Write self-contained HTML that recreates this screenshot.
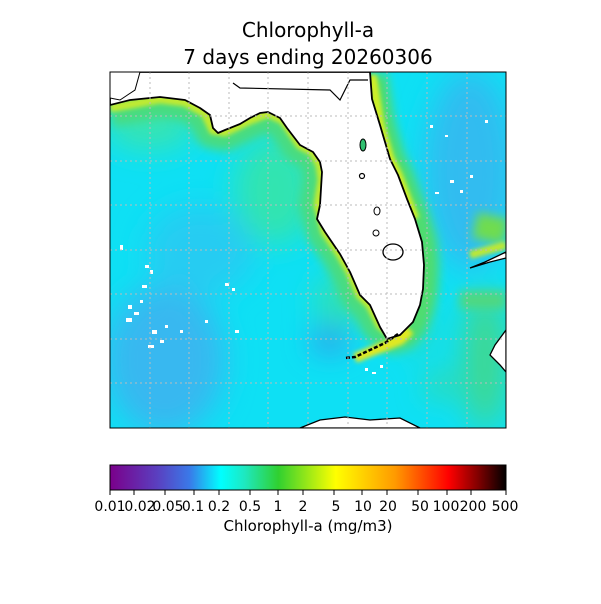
<!DOCTYPE html>
<html><head><style>
body{margin:0;background:#fff;width:601px;height:600px;overflow:hidden;font-family:"DejaVu Sans","Liberation Sans",sans-serif;}
</style></head><body>
<svg width="601" height="600" viewBox="0 0 601 600" xmlns="http://www.w3.org/2000/svg" font-family="DejaVu Sans, Liberation Sans, sans-serif">
<defs>
<filter id="b4" x="-20%" y="-20%" width="140%" height="140%"><feGaussianBlur stdDeviation="5"/></filter>
<filter id="b2" x="-20%" y="-20%" width="140%" height="140%"><feGaussianBlur stdDeviation="2"/></filter>
<filter id="b15" x="-30%" y="-30%" width="160%" height="160%"><feGaussianBlur stdDeviation="15"/></filter>
<clipPath id="ax"><rect x="110" y="72" width="396" height="356"/></clipPath>
<linearGradient id="cb" x1="0" x2="1" y1="0" y2="0">
<stop offset="0" stop-color="#7a008a"/>
<stop offset="0.12" stop-color="#5a40c0"/>
<stop offset="0.2" stop-color="#3a78e8"/>
<stop offset="0.28" stop-color="#00ffff"/>
<stop offset="0.34" stop-color="#1ee8c0"/>
<stop offset="0.425" stop-color="#30d030"/>
<stop offset="0.57" stop-color="#ffff00"/>
<stop offset="0.72" stop-color="#ff9a00"/>
<stop offset="0.855" stop-color="#ff0000"/>
<stop offset="0.93" stop-color="#800000"/>
<stop offset="1" stop-color="#000000"/>
</linearGradient>
</defs>
<text x="308" y="37" font-size="20" text-anchor="middle">Chlorophyll-a</text>
<text x="308" y="64" font-size="20" text-anchor="middle">7 days ending 20260306</text>
<g clip-path="url(#ax)">
<rect x="110" y="72" width="396" height="356" fill="#0ee0f4"/>
<g filter="url(#b15)">
<ellipse cx="165" cy="360" rx="60" ry="75" fill="#38b8f0"/>
<ellipse cx="200" cy="250" rx="55" ry="45" fill="#28ccf2"/>
<ellipse cx="470" cy="170" rx="45" ry="100" fill="#30bcf0"/>
<ellipse cx="330" cy="340" rx="18" ry="12" fill="#3a8ce8"/>
<ellipse cx="275" cy="190" rx="40" ry="55" fill="#30e4b0"/>
<ellipse cx="150" cy="125" rx="45" ry="25" fill="#38e4b0"/>
<ellipse cx="485" cy="360" rx="22" ry="70" fill="#40d890"/>
<ellipse cx="440" cy="385" rx="14" ry="12" fill="#40d890"/>
<ellipse cx="415" cy="330" rx="12" ry="18" fill="#40d890"/>
<ellipse cx="340" cy="300" rx="25" ry="25" fill="#30e0b0"/>
</g>
<g filter="url(#b4)" fill="none" stroke-linejoin="round">
<path d="M110,108 L160,99 185,102 205,113 213,130 225,132 250,120 268,113 283,120 300,145 313,152 320,165 322,180 318,205 325,232 340,254 350,272 360,295 370,305 380,325 392,335 405,330" stroke="#48dc80" stroke-width="38"/>
<path d="M372,75 L380,125 390,159 398,175 407,199 415,219 422,242 424,265 423,289 420,305 413,322 400,338" stroke="#50dc70" stroke-width="30"/>
<path d="M475,225 L506,232" stroke="#70dc50" stroke-width="26"/>
<path d="M460,300 L506,300" stroke="#50d880" stroke-width="18"/>
</g>
<g filter="url(#b2)" fill="none" stroke-linejoin="round">
<path d="M110,108 L160,99 185,102 205,113 213,130 225,132 250,120 268,113 283,120 300,145 313,152 320,165 322,180 318,205 325,232 340,254 350,272 360,295 370,305 380,325 392,335 405,330" stroke="#c0ea30" stroke-width="9"/>
<path d="M372,75 L380,125 390,159 398,175 407,199 415,219" stroke="#d0ee28" stroke-width="9"/>
<path d="M355,358 L400,340 410,330" stroke="#e0e820" stroke-width="10"/>
<path d="M470,255 L506,245" stroke="#c0e830" stroke-width="8"/>
</g>
<path d="M110,72 L110,105 130,100 160,97 185,100 200,108 210,115 213,128 218,133 225,130 240,124 250,118 260,113 268,112 280,118 287,128 300,145 313,152 320,162 322,172 320,205 317,219 325,232 340,254 350,272 360,295 370,305 380,327 387,339 400,335 413,322 420,305 423,289 424,265 422,242 415,219 407,199 398,175 390,159 380,125 372,99 370,72 Z" fill="#fff" stroke="#000" stroke-width="1.8" stroke-linejoin="round"/>
<path d="M233,83 L240,88 330,90 340,100 345,90 350,80 368,80" fill="none" stroke="#000" stroke-width="1.2"/>
<ellipse cx="393" cy="252" rx="10" ry="8" fill="#fff" stroke="#000" stroke-width="1.3"/>
<ellipse cx="363" cy="145" rx="3" ry="6" fill="#30c070" stroke="#000" stroke-width="1"/>
<ellipse cx="377" cy="211" rx="3" ry="4" fill="#fff" stroke="#000" stroke-width="1"/>
<ellipse cx="376" cy="233" rx="3" ry="3" fill="#fff" stroke="#000" stroke-width="1"/>
<ellipse cx="362" cy="176" rx="2.5" ry="2.5" fill="#fff" stroke="#000" stroke-width="1.2"/>
<path d="M398,334 L385,343 370,350 355,357 345,358" fill="none" stroke="#000" stroke-width="2.5" stroke-dasharray="4 2"/>
<path d="M470,268 L490,262 506,258 L506,252 485,262 Z" fill="#fff" stroke="#000" stroke-width="1.3"/>
<path d="M506,330 L495,345 490,355 500,365 506,372 Z" fill="#fff" stroke="#000" stroke-width="1.3"/>
<path d="M300,428 L320,420 345,417 370,420 400,418 420,428 Z" fill="#fff" stroke="#000" stroke-width="1.3"/>
<path d="M110,72 L140,72 135,90 120,100 110,98 Z" fill="#fff" stroke="#000" stroke-width="1"/>
<g fill="#fff">
<rect x="128" y="305" width="4" height="4"/><rect x="134" y="312" width="5" height="3"/><rect x="126" y="318" width="6" height="4"/><rect x="140" y="300" width="3" height="3"/>
<rect x="145" y="265" width="4" height="3"/><rect x="150" y="270" width="3" height="4"/><rect x="142" y="285" width="5" height="3"/>
<rect x="152" y="330" width="5" height="4"/><rect x="160" y="340" width="4" height="3"/><rect x="148" y="345" width="6" height="3"/><rect x="165" y="325" width="3" height="3"/>
<rect x="120" y="245" width="3" height="5"/><rect x="225" y="283" width="4" height="3"/><rect x="232" y="288" width="3" height="3"/>
<rect x="180" y="330" width="3" height="3"/><rect x="235" y="330" width="4" height="3"/><rect x="205" y="320" width="3" height="3"/>
<rect x="450" y="180" width="4" height="3"/><rect x="460" y="190" width="3" height="3"/><rect x="435" y="192" width="4" height="2"/><rect x="470" y="175" width="3" height="3"/>
<rect x="430" y="125" width="3" height="3"/><rect x="445" y="135" width="3" height="2"/><rect x="485" y="120" width="3" height="3"/>
<rect x="365" y="368" width="3" height="3"/><rect x="372" y="372" width="4" height="2"/><rect x="380" y="365" width="3" height="3"/>
</g>
</g>
<g stroke="#bbb" stroke-width="1" stroke-dasharray="2 3" fill="none">
<path d="M150,72V428M189,72V428M229,72V428M268,72V428M308,72V428M348,72V428M387,72V428M427,72V428M467,72V428"/>
<path d="M110,116H506M110,161H506M110,205H506M110,250H506M110,294H506M110,339H506M110,383H506"/>
</g>
<rect x="110" y="72" width="396" height="356" fill="none" stroke="#000" stroke-width="1"/>
<rect x="110" y="465" width="396" height="25" fill="url(#cb)" stroke="#000" stroke-width="1"/>
<g stroke="#000" stroke-width="1">
<path d="M110,490v5M134,490v5M165,490v5M194,490v5M219,490v5M250,490v5M278,490v5M303,490v5M334,490v5M362,490v5M387,490v5M418,490v5M447,490v5M471,490v5M506,490v5"/>
</g>
<g font-size="14" text-anchor="middle">
<text x="110" y="511">0.01</text><text x="140" y="511">0.02</text><text x="168" y="511">0.05</text><text x="193" y="511">0.1</text><text x="219" y="511">0.2</text><text x="250" y="511">0.5</text><text x="278" y="511">1</text><text x="303" y="511">2</text><text x="336" y="511">5</text><text x="363" y="511">10</text><text x="388" y="511">20</text><text x="420" y="511">50</text><text x="446" y="511">100</text><text x="473" y="511">200</text><text x="505" y="511">500</text>
<text x="308" y="531" font-size="15">Chlorophyll-a (mg/m3)</text>
</g>
</svg>
</body></html>
